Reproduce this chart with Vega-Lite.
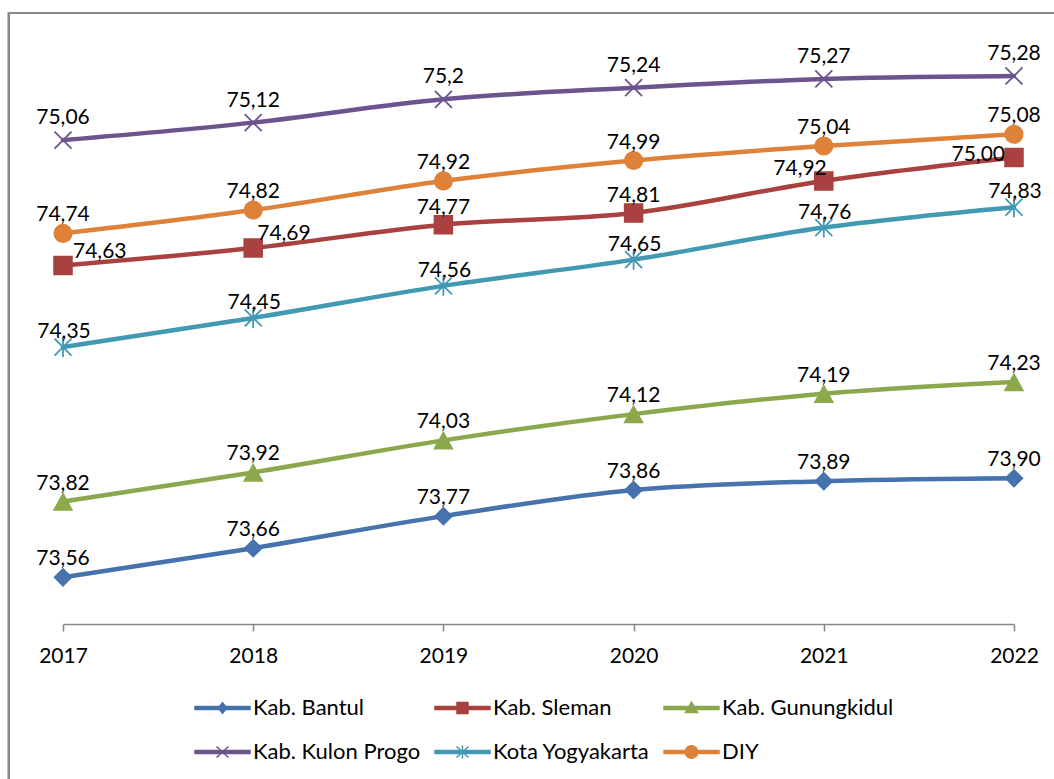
{
  "$schema": "https://vega.github.io/schema/vega-lite/v6.json",
  "width": 951,
  "height": 583,
  "autosize": "none",
  "padding": {"left": 63, "top": 41, "right": 40, "bottom": 155},
  "background": "white",
  "config": {"view": {"stroke": null}, "font": "Lato"},
  "data": {"values": [
    {"series": "Kab. Bantul", "year": 2017, "value": 73.56, "label": "73,56"},
    {"series": "Kab. Bantul", "year": 2018, "value": 73.66, "label": "73,66"},
    {"series": "Kab. Bantul", "year": 2019, "value": 73.77, "label": "73,77"},
    {"series": "Kab. Bantul", "year": 2020, "value": 73.86, "label": "73,86"},
    {"series": "Kab. Bantul", "year": 2021, "value": 73.89, "label": "73,89"},
    {"series": "Kab. Bantul", "year": 2022, "value": 73.90, "label": "73,90"},
    {"series": "Kab. Sleman", "year": 2017, "value": 74.63, "label": "74,63"},
    {"series": "Kab. Sleman", "year": 2018, "value": 74.69, "label": "74,69"},
    {"series": "Kab. Sleman", "year": 2019, "value": 74.77, "label": "74,77"},
    {"series": "Kab. Sleman", "year": 2020, "value": 74.81, "label": "74,81"},
    {"series": "Kab. Sleman", "year": 2021, "value": 74.92, "label": "74,92"},
    {"series": "Kab. Sleman", "year": 2022, "value": 75.00, "label": "75,00"},
    {"series": "Kab. Gunungkidul", "year": 2017, "value": 73.82, "label": "73,82"},
    {"series": "Kab. Gunungkidul", "year": 2018, "value": 73.92, "label": "73,92"},
    {"series": "Kab. Gunungkidul", "year": 2019, "value": 74.03, "label": "74,03"},
    {"series": "Kab. Gunungkidul", "year": 2020, "value": 74.12, "label": "74,12"},
    {"series": "Kab. Gunungkidul", "year": 2021, "value": 74.19, "label": "74,19"},
    {"series": "Kab. Gunungkidul", "year": 2022, "value": 74.23, "label": "74,23"},
    {"series": "Kab. Kulon Progo", "year": 2017, "value": 75.06, "label": "75,06"},
    {"series": "Kab. Kulon Progo", "year": 2018, "value": 75.12, "label": "75,12"},
    {"series": "Kab. Kulon Progo", "year": 2019, "value": 75.20, "label": "75,2"},
    {"series": "Kab. Kulon Progo", "year": 2020, "value": 75.24, "label": "75,24"},
    {"series": "Kab. Kulon Progo", "year": 2021, "value": 75.27, "label": "75,27"},
    {"series": "Kab. Kulon Progo", "year": 2022, "value": 75.28, "label": "75,28"},
    {"series": "Kota Yogyakarta", "year": 2017, "value": 74.35, "label": "74,35"},
    {"series": "Kota Yogyakarta", "year": 2018, "value": 74.45, "label": "74,45"},
    {"series": "Kota Yogyakarta", "year": 2019, "value": 74.56, "label": "74,56"},
    {"series": "Kota Yogyakarta", "year": 2020, "value": 74.65, "label": "74,65"},
    {"series": "Kota Yogyakarta", "year": 2021, "value": 74.76, "label": "74,76"},
    {"series": "Kota Yogyakarta", "year": 2022, "value": 74.83, "label": "74,83"},
    {"series": "DIY", "year": 2017, "value": 74.74, "label": "74,74"},
    {"series": "DIY", "year": 2018, "value": 74.82, "label": "74,82"},
    {"series": "DIY", "year": 2019, "value": 74.92, "label": "74,92"},
    {"series": "DIY", "year": 2020, "value": 74.99, "label": "74,99"},
    {"series": "DIY", "year": 2021, "value": 75.04, "label": "75,04"},
    {"series": "DIY", "year": 2022, "value": 75.08, "label": "75,08"}
  ]},
  "encoding": {
    "x": {"field": "year", "type": "quantitative", "scale": {"domain": [2017, 2022], "nice": false, "zero": false},
      "axis": {"values": [2017, 2018, 2019, 2020, 2021, 2022], "format": "d", "title": null, "grid": false,
        "labelFont": "Lato", "labelFontSize": 21, "labelColor": "#000000", "labelPadding": 14,
        "domainColor": "#868686", "domainWidth": 1.5, "tickColor": "#868686", "tickWidth": 1.5, "tickSize": 7, "labelFlush": false}},
    "y": {"field": "value", "type": "quantitative", "scale": {"domain": [73.4, 75.4], "nice": false, "zero": false}, "axis": null},
    "color": {"field": "series", "type": "nominal",
      "scale": {"domain": ["Kab. Bantul", "Kab. Sleman", "Kab. Gunungkidul", "Kab. Kulon Progo", "Kota Yogyakarta", "DIY"],
        "range": ["#4672AE", "#A8413F", "#8BA84D", "#6D548E", "#4199B2", "#DE8239"]},
      "legend": {"orient": "none", "legendX": 126, "legendY": 656, "direction": "horizontal", "columns": 3, "title": null,
        "padding": 0, "symbolSize": 100, "symbolStrokeWidth": 1.5, "labelOffset": 42, "columnPadding": 8, "rowPadding": 22,
        "labelFont": "Lato", "labelFontSize": 22, "labelColor": "#000000", "labelLimit": 300,
        "encode": {"symbols": {"update": {
          "shape": {"signal": "datum.value === 'Kab. Bantul' ? 'M-1,-0.3H10V0.3H-1ZM4.5,-1.05L5.35,0L4.5,1.05L3.65,0Z' : datum.value === 'Kab. Sleman' ? 'M-1,-0.3H10V0.3H-1ZM3.4,-1.1H5.6V1.1H3.4Z' : datum.value === 'Kab. Gunungkidul' ? 'M-1,-0.3H10V0.3H-1ZM4.5,-1.2L5.7,0.9L3.3,0.9Z' : datum.value === 'Kab. Kulon Progo' ? 'M-1,-0.3H10V0.3H-1ZM3.3,-1.1L5.7,1.1M3.3,1.1L5.7,-1.1' : datum.value === 'Kota Yogyakarta' ? 'M-1,-0.3H10V0.3H-1ZM3.3,-1.1L5.7,1.1M3.3,1.1L5.7,-1.1M4.5,-1.3L4.5,1.3' : 'M-1,-0.3H10V0.3H-1ZM3.25,0A1.25,1.25,0,1,1,5.75,0A1.25,1.25,0,1,1,3.25,0Z'"},
          "fill": {"signal": "scale('color', datum.value)"},
          "stroke": {"signal": "scale('color', datum.value)"},
          "strokeWidth": {"value": 1.5},
          "opacity": {"value": 1}
        }}}
      }
    }
  },
  "layer": [
    {
      "mark": {"type": "rect", "fill": null, "stroke": "#8a8a8a", "strokeWidth": 2, "clip": false},
      "encoding": {
        "x": {"datum": 2016.716, "type": "quantitative"},
        "x2": {"datum": 2022.4},
        "y": {"datum": 75.496, "type": "quantitative"},
        "y2": {"datum": 72.7},
        "color": {"value": null}
      }
    },
    {
      "mark": {"type": "line", "interpolate": "monotone", "strokeWidth": 4.5, "strokeCap": "round"},
      "encoding": {}
    },
    {
      "transform": [{"filter": "datum.series === 'Kab. Bantul'"}],
      "mark": {"type": "point", "filled": true, "size": 400, "strokeWidth": 1.5, "opacity": 1, "stroke": "#4672AE", "shape": "M0,-0.85L0.85,0L0,0.85L-0.85,0Z"},
      "encoding": {}
    },
    {
      "transform": [{"filter": "datum.series === 'Kab. Sleman'"}],
      "mark": {"type": "point", "filled": true, "size": 400, "strokeWidth": 1.5, "opacity": 1, "stroke": "#A8413F", "shape": "M-0.9,-0.9H0.9V0.9H-0.9Z"},
      "encoding": {}
    },
    {
      "transform": [{"filter": "datum.series === 'Kab. Gunungkidul'"}],
      "mark": {"type": "point", "filled": true, "size": 400, "strokeWidth": 1.5, "opacity": 1, "stroke": "#8BA84D", "shape": "M0,-0.8L0.9,0.85L-0.9,0.85Z"},
      "encoding": {}
    },
    {
      "transform": [{"filter": "datum.series === 'Kab. Kulon Progo'"}],
      "mark": {"type": "point", "filled": true, "size": 400, "strokeWidth": 1.8, "opacity": 1, "stroke": "#6D548E", "shape": "M-0.85,-0.85L0.85,0.85M-0.85,0.85L0.85,-0.85"},
      "encoding": {}
    },
    {
      "transform": [{"filter": "datum.series === 'Kota Yogyakarta'"}],
      "mark": {"type": "point", "filled": true, "size": 400, "strokeWidth": 1.8, "opacity": 1, "stroke": "#4199B2", "shape": "M-0.85,-0.85L0.85,0.85M-0.85,0.85L0.85,-0.85M0,-1L0,1"},
      "encoding": {}
    },
    {
      "transform": [{"filter": "datum.series === 'DIY'"}],
      "mark": {"type": "point", "filled": true, "size": 400, "strokeWidth": 1.5, "opacity": 1, "stroke": "#DE8239", "shape": "M-0.88,0A0.88,0.88,0,1,1,0.88,0A0.88,0.88,0,1,1,-0.88,0Z"},
      "encoding": {}
    },
    {
      "transform": [{"filter": "datum.series === 'Kab. Kulon Progo'"}],
      "mark": {"type": "text", "font": "Lato", "fontSize": 21, "color": "#000000", "align": "center", "baseline": "alphabetic", "dy": -16},
      "encoding": {"text": {"field": "label"}, "color": {"value": "#000000"}}
    },
    {
      "transform": [{"filter": "datum.series === 'Kab. Bantul' || datum.series === 'Kab. Gunungkidul' || datum.series === 'DIY'"}],
      "mark": {"type": "text", "font": "Lato", "fontSize": 21, "color": "#000000", "align": "center", "baseline": "alphabetic", "dy": -12},
      "encoding": {"text": {"field": "label"}, "color": {"value": "#000000"}}
    },
    {
      "transform": [{"filter": "datum.series === 'Kota Yogyakarta'"}],
      "mark": {"type": "text", "font": "Lato", "fontSize": 21, "color": "#000000", "align": "center", "baseline": "alphabetic", "dy": -9, "dx": 1},
      "encoding": {"text": {"field": "label"}, "color": {"value": "#000000"}}
    },
    {
      "transform": [{"filter": "datum.series === 'Kab. Sleman' && datum.year === 2017"}],
      "mark": {"type": "text", "font": "Lato", "fontSize": 21, "color": "#000000", "align": "left", "baseline": "alphabetic", "dx": 10, "dy": -7},
      "encoding": {"text": {"field": "label"}, "color": {"value": "#000000"}}
    },
    {
      "transform": [{"filter": "datum.series === 'Kab. Sleman' && datum.year === 2018"}],
      "mark": {"type": "text", "font": "Lato", "fontSize": 21, "color": "#000000", "align": "left", "baseline": "alphabetic", "dx": 4, "dy": -8},
      "encoding": {"text": {"field": "label"}, "color": {"value": "#000000"}}
    },
    {
      "transform": [{"filter": "datum.series === 'Kab. Sleman' && (datum.year === 2019 || datum.year === 2020)"}],
      "mark": {"type": "text", "font": "Lato", "fontSize": 21, "color": "#000000", "align": "center", "baseline": "alphabetic", "dy": -11},
      "encoding": {"text": {"field": "label"}, "color": {"value": "#000000"}}
    },
    {
      "transform": [{"filter": "datum.series === 'Kab. Sleman' && datum.year === 2021"}],
      "mark": {"type": "text", "font": "Lato", "fontSize": 21, "color": "#000000", "align": "right", "baseline": "alphabetic", "dx": 3, "dy": -6},
      "encoding": {"text": {"field": "label"}, "color": {"value": "#000000"}}
    },
    {
      "transform": [{"filter": "datum.series === 'Kab. Sleman' && datum.year === 2022"}],
      "mark": {"type": "text", "font": "Lato", "fontSize": 21, "color": "#000000", "align": "right", "baseline": "alphabetic", "dx": -9, "dy": 3},
      "encoding": {"text": {"field": "label"}, "color": {"value": "#000000"}}
    }
  ]
}
